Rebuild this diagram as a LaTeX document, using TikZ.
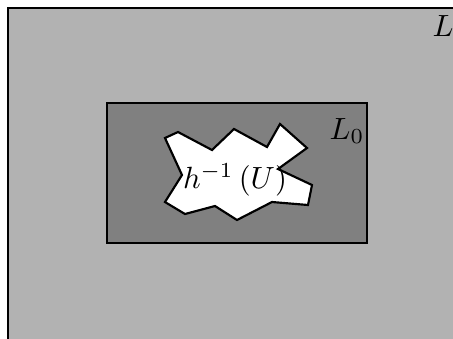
\documentclass[tikz,border=0pt]{standalone}
\usetikzlibrary{positioning}

\begin{document}
\begin{tikzpicture}[
  x=0.326pt, y=-0.326pt,
  region/.style={draw, line width=0.7pt},
  lbl/.style={inner sep=0pt, font=\normalsize}
]
\useasboundingbox (0,0) rectangle (453,338);
\clip (0,0) rectangle (453,338);
% outer set L
\draw[region, fill=black!30] (8,8) rectangle (480,360);
\node[lbl] (lL) at (443,26) {$L$};
% inner set L_0
\draw[region, fill=black!50] (107,103) rectangle (367,243);
\node[lbl] (lL0) at (347,131) {$L_0$};
% preimage h^{-1}(U)
\draw[region, fill=white] (165,138) -- (178,132) -- (212,150) -- (234,129) -- (267,147)
  -- (280,124) -- (307,148) -- (278,169) -- (312,185) -- (308,205) -- (272,202)
  -- (237,220) -- (215,206) -- (185,214) -- (165,202) -- (182,175) -- cycle;
\node[lbl] (lpre) at (235,180) {$h^{-1}\left(U\right)$};
\end{tikzpicture}
\end{document}
